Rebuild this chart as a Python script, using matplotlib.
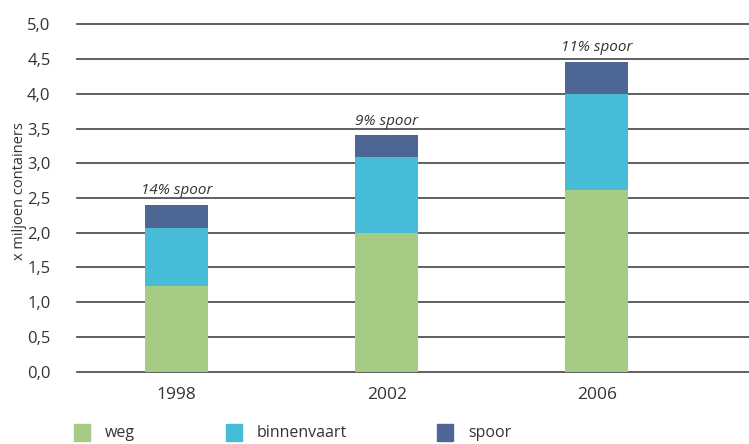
import matplotlib.pyplot as plt
import numpy as np

plt.rcParams['font.family'] = ['Open Sans', 'DejaVu Sans']

# Container transport by mode (x million containers)
years = ['1998', '2002', '2006']
weg = [1.23, 2.00, 2.62]
binnenvaart = [0.84, 1.09, 1.37]
spoor = [0.33, 0.31, 0.47]
share_labels = ['14% spoor', '9% spoor', '11% spoor']

series = [('weg', weg, '#A6CB85'),
          ('binnenvaart', binnenvaart, '#47BCD7'),
          ('spoor', spoor, '#4E6694')]

TEXT = '#333333'

fig = plt.figure(figsize=(7.49, 4.44), dpi=100)
ax = fig.add_axes([0.1028, 0.1628, 0.8972, 0.7825])

x = np.arange(len(years))
bottom = np.zeros(len(years))
for name, vals, color in series:
    ax.bar(x, vals, bottom=bottom, width=0.3, color=color, zorder=3)
    bottom += np.array(vals)

for xi, total, lbl in zip(x, bottom, share_labels):
    ax.text(xi, total + 0.1, lbl, ha='center', va='bottom', fontsize=11,
            style='italic', color=TEXT)

ax.set_xlim(-0.475, 2.725)
ax.set_ylim(0, 5.0)
yt = np.arange(0, 5.01, 0.5)
ax.set_yticks(yt)
ax.set_yticklabels([f'{v:.1f}'.replace('.', ',') for v in yt], fontsize=12, color=TEXT)
ax.set_xticks(x)
ax.set_xticklabels(years, fontsize=12.5, color=TEXT)
ax.tick_params(length=0)
ax.tick_params(axis='y', pad=19)
ax.tick_params(axis='x', pad=11)
ax.yaxis.grid(True, color='#444444', linewidth=1.2, clip_on=False)
ax.set_axisbelow(True)
for s in ax.spines.values():
    s.set_visible(False)

ax.set_ylabel('x miljoen containers', fontsize=10.5, color=TEXT)
ax.yaxis.set_label_coords(-0.075, 0.52)

# legend row along the bottom
legend_x = [74, 226, 437]
for (name, vals, color), lx in zip(series, legend_x):
    fig.patches.append(plt.Rectangle((lx / 749, (444 - 441) / 444), 16 / 749, 17 / 444,
                                     transform=fig.transFigure, color=color))
    fig.text((lx + 31) / 749, (444 - 433) / 444, name, fontsize=11.5, color=TEXT,
             va='center', ha='left')

fig.savefig('out.png', dpi=100, facecolor='white')
